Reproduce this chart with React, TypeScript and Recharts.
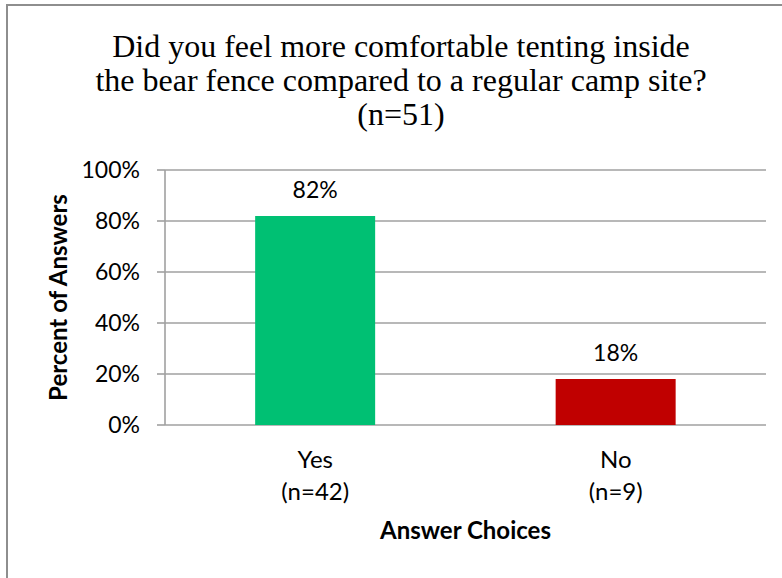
import React from "react";
import { BarChart, Bar, XAxis, YAxis, CartesianGrid, Cell, LabelList, Label } from "recharts";

// ─── Data ─────────────────────────────────────────────────────────────────────

const titleLines = [
  "Did you feel more comfortable tenting inside",
  "the bear fence compared to a regular camp site?",
  "(n=51)",
];
const answers = ["Yes", "No"];
const respondents = [42, 9];
const percents = [82, 18];
const barColors = ["#00c073", "#c00000"];
const yTicks = [0, 20, 40, 60, 80, 100];

const rows = answers.map((name, i) => ({ name, pct: percents[i], n: respondents[i] }));
// boundaries between categories, for Excel-style tick marks
const bounds = answers.map((_, i) => i).concat(answers.length);

const SANS = "Lato, 'Open Sans', sans-serif";
const GRID = "#a0a0a0";

// ─── Ticks / labels ───────────────────────────────────────────────────────────

function CategoryTick({ x, y, payload }: any) {
  const n = respondents[payload.index];
  return (
    <text x={x} y={y} textAnchor="middle" fontFamily={SANS} fontSize={24} fill="#000">
      <tspan x={x} dy={43}>{payload.value}</tspan>
      <tspan x={x} dy={32}>{`(n=${n})`}</tspan>
    </text>
  );
}

function XTitle({ viewBox }: any) {
  return (
    <text x={viewBox.x + viewBox.width / 2} y={viewBox.y + 114} textAnchor="middle"
      fontFamily={SANS} fontSize={24} fontWeight={700} fill="#000">
      Answer Choices
    </text>
  );
}

function YTitle({ viewBox }: any) {
  const cx = viewBox.x + 67;
  const cy = viewBox.y + viewBox.height / 2;
  return (
    <text x={cx} y={cy} transform={`rotate(-90, ${cx}, ${cy})`} textAnchor="middle"
      fontFamily={SANS} fontSize={24} fontWeight={700} fill="#000">
      Percent of Answers
    </text>
  );
}

// ─── Component ────────────────────────────────────────────────────────────────

export default function App() {
  return (
    <div style={{ position: "absolute", left: 0, top: 0, width: 782, height: 578, overflow: "hidden", background: "#fff" }}>
      {/* chart frame: only its top and left edges fall inside the picture */}
      <div style={{ position: "absolute", left: 6, top: 4, right: 0, bottom: 0,
        borderTop: "2px solid #8e8e8e", borderLeft: "2px solid #8e8e8e" }} />

      <div style={{ position: "absolute", left: 0, top: 29, width: 802, textAlign: "center",
        fontFamily: "'Liberation Serif', serif", fontSize: 32, lineHeight: "34px", color: "#000" }}>
        {titleLines.map((t) => <div key={t}>{t}</div>)}
      </div>

      <div style={{ position: "absolute", left: 0, top: 0 }}>
        <BarChart width={782} height={578} data={rows} barCategoryGap="30%"
          margin={{ top: 170, right: 16, bottom: 0, left: 0 }}>
          <CartesianGrid xAxisId="cat" vertical={false} stroke={GRID} strokeWidth={1.6} />
          <XAxis xAxisId="bounds" type="number" domain={[0, answers.length]} ticks={bounds}
            tick={false} tickSize={9} height={0} stroke={GRID} strokeWidth={1.6} />
          <XAxis xAxisId="cat" dataKey="name" height={153} tick={<CategoryTick />}
            tickLine={false} axisLine={false} tickSize={0} tickMargin={0} interval={0}>
            <Label content={<XTitle />} />
          </XAxis>
          <YAxis width={165} domain={[0, 100]} ticks={yTicks} tickFormatter={(v) => `${v}%`}
            tickSize={8} tickMargin={17} stroke={GRID} strokeWidth={1.6}
            tick={{ fill: "#000", fontSize: 23, fontFamily: SANS }}>
            <Label content={<YTitle />} />
          </YAxis>
          <Bar xAxisId="cat" dataKey="pct" isAnimationActive={false}>
            {rows.map((r, i) => <Cell key={r.name} fill={barColors[i]} />)}
            <LabelList dataKey="pct" position="top" offset={18} formatter={(v: any) => `${v}%`}
              style={{ fill: "#000", fontSize: 23, fontFamily: SANS }} />
          </Bar>
        </BarChart>
      </div>
    </div>
  );
}
